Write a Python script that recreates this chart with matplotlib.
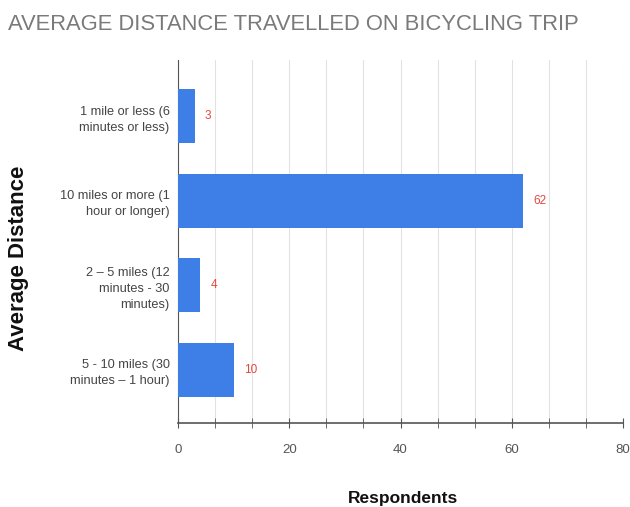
import matplotlib
matplotlib.use("Agg")
import matplotlib.pyplot as plt
import numpy as np
from matplotlib.ticker import MultipleLocator

categories = [
    "1 mile or less (6\nminutes or less)",
    "10 miles or more (1\nhour or longer)",
    "2 – 5 miles (12\nminutes - 30\nminutes)",
    "5 - 10 miles (30\nminutes – 1 hour)",
]
respondents = [3, 62, 4, 10]
x_ticks = [0, 20, 40, 60, 80]

sans = ["Liberation Sans", "DejaVu Sans"]

fig = plt.figure(figsize=(6.3, 5.07), dpi=100)
ax = fig.add_axes([0.2825, 0.166, 0.7065, 0.716])

y = np.arange(len(categories))
ax.barh(y, respondents, height=0.64, color="#3d7fe6", zorder=3)

for yi, v in zip(y, respondents):
    ax.text(v + 1.8, yi, str(v), color="#e5463e", fontsize=8.5,
            va="center", ha="left", family=sans)

ax.set_xlim(0, 80)
ax.set_ylim(3.63, -0.67)
ax.set_yticks(y)
ax.set_yticklabels(categories, fontsize=9.2, color="#444444", family=sans,
                   multialignment="right", linespacing=1.45)
ax.tick_params(axis="y", length=0, pad=6)

ax.set_xticks(x_ticks)
ax.xaxis.set_minor_locator(MultipleLocator(20 / 3))
ax.tick_params(axis="x", which="both", direction="inout", length=7,
               color="#555555", labelsize=9.5, labelcolor="#555555", pad=12)
for lab in ax.get_xticklabels():
    lab.set_family(sans)

ax.grid(axis="x", which="both", color="#e2e2e2", linewidth=0.8, zorder=0)

for side in ("top", "right"):
    ax.spines[side].set_visible(False)
ax.spines["left"].set_color("#555555")
ax.spines["bottom"].set_color("#555555")
ax.spines["bottom"].set_linewidth(1.2)

# Axis titles placed in figure coordinates
fig.text(0.64, 0.017, "Respondents", fontsize=12.5, fontweight="bold",
         family=sans, color="#111111", va="center", ha="center")
fig.text(0.03, 0.49, "Average Distance", rotation=90, fontsize=16,
         fontweight="bold", va="center", ha="center", color="#111111",
         family=sans)

fig.text(0.012, 0.952, "AVERAGE DISTANCE TRAVELLED ON BICYCLING TRIP",
         fontsize=15.8, color="#7a7a7a", family=sans, va="center", ha="left")

fig.savefig("out.png", dpi=100)
